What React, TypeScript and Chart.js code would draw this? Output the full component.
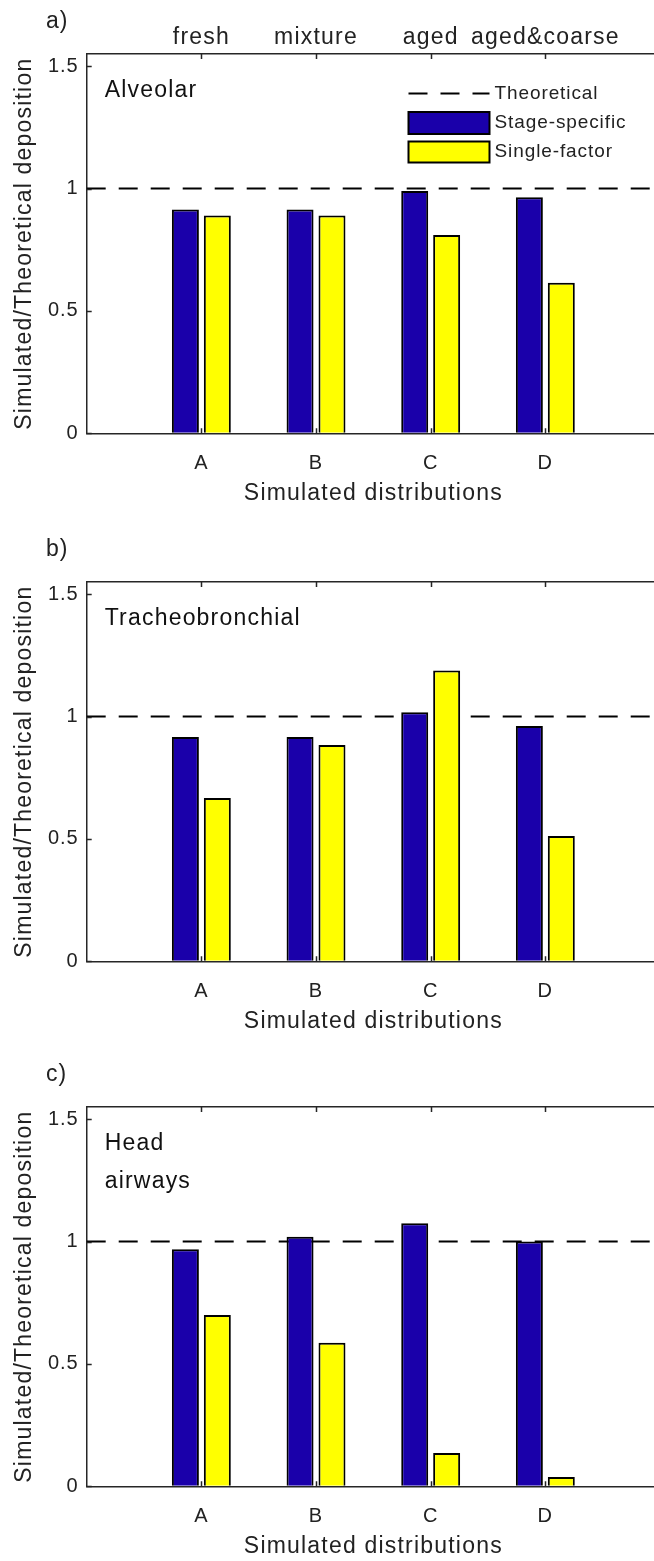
import React, { useEffect, useRef } from 'react';
import { Chart, registerables } from 'chart.js';

Chart.register(...registerables);

// Categories and labels
const distributions = ['A', 'B', 'C', 'D'];
const stages = ['fresh', 'mixture', 'aged', 'aged&coarse'];
const yTickValues = [0, 0.5, 1, 1.5];
const theoretical = 1;
const seriesLabels = ['Theoretical', 'Stage-specific', 'Single-factor'];

// Simulated / theoretical deposition ratios
const alveolarStage = [0.915, 0.915, 0.99, 0.965];
const alveolarSingle = [0.89, 0.89, 0.81, 0.615];
const tracheoStage = [0.917, 0.917, 1.018, 0.962];
const tracheoSingle = [0.667, 0.884, 1.188, 0.512];
const headStage = [0.969, 1.02, 1.075, 1.0];
const headSingle = [0.7, 0.587, 0.136, 0.038];

const panels = [
  { tag: 'a)', region: ['Alveolar'], stage: alveolarStage, single: alveolarSingle, stages: true, legend: true, offset: 0 },
  { tag: 'b)', region: ['Tracheobronchial'], stage: tracheoStage, single: tracheoSingle, stages: false, legend: false, offset: 528 },
  { tag: 'c)', region: ['Head', 'airways'], stage: headStage, single: headSingle, stages: false, legend: false, offset: 1053 },
];

const W = 670;
const H = 528;
const PLOT_LEFT = 86.7;
const PLOT_TOP = 54;
const PLOT_BOTTOM = 433.3;
const PLOT_RIGHT = 660;

const FONT = '"Liberation Sans", Arial, Helvetica, sans-serif';
const TEXT = '#222222';
const AXIS = '#262626';
const BLUE = '#1a00aa';
const YELLOW = '#ffff00';
const DASH = [19, 13];

function setSpacing(ctx: CanvasRenderingContext2D, px: number) {
  (ctx as any).letterSpacing = px + 'px';
}

function makeDecorations(panel: typeof panels[number]) {
  return {
    id: 'panelDecorations',
    beforeDraw(chart: Chart) {
      setSpacing(chart.ctx, 1);
    },
    afterDatasetsDraw(chart: Chart) {
      const ctx = chart.ctx;
      const { left, right, top, bottom } = chart.chartArea;
      const xs = chart.scales.x;
      const ys = chart.scales.y;
      ctx.save();
      ctx.strokeStyle = AXIS;
      ctx.lineWidth = 1.5;
      ctx.beginPath();
      yTickValues.forEach((v) => {
        const y = Math.round(ys.getPixelForValue(v)) + 0.5;
        ctx.moveTo(left, y);
        ctx.lineTo(left + 5, y);
        ctx.moveTo(right, y);
        ctx.lineTo(right - 5, y);
      });
      distributions.forEach((_, i) => {
        const x = Math.round(xs.getPixelForValue(i + 1)) + 0.5;
        ctx.moveTo(x, top);
        ctx.lineTo(x, top + 5);
        ctx.moveTo(x, bottom);
        ctx.lineTo(x, bottom - 5);
      });
      ctx.stroke();
      // right frame edge
      ctx.beginPath();
      ctx.moveTo(right, top);
      ctx.lineTo(right, bottom);
      ctx.stroke();
      ctx.restore();
    },
    afterDraw(chart: Chart) {
      const ctx = chart.ctx;
      const { left, right, top, bottom } = chart.chartArea;
      const xs = chart.scales.x;
      ctx.save();
      ctx.fillStyle = TEXT;
      ctx.textBaseline = 'middle';

      // panel tag
      setSpacing(ctx, 1);
      ctx.font = `23px ${FONT}`;
      ctx.textAlign = 'left';
      ctx.fillText(panel.tag, 46, 22);

      // stage names above the frame
      if (panel.stages) {
        ctx.textAlign = 'center';
        setSpacing(ctx, 1.2);
        stages.forEach((s, i) => {
          ctx.fillText(s, xs.getPixelForValue(i + 1), 38);
        });
      }

      // region name inside the frame
      ctx.fillStyle = '#111111';
      ctx.textAlign = 'left';
      setSpacing(ctx, 1.2);
      panel.region.forEach((line, k) => {
        ctx.fillText(line, left + 18, top + 37 + k * 38);
      });

      // axis titles
      ctx.fillStyle = TEXT;
      ctx.textAlign = 'center';
      ctx.fillText('Simulated distributions', (left + right) / 2, 494);
      ctx.save();
      ctx.translate(25, (top + bottom) / 2);
      ctx.rotate(-Math.PI / 2);
      ctx.fillText('Simulated/Theoretical deposition', 0, 0);
      ctx.restore();

      // legend
      if (panel.legend) {
        const lx = 408.5;
        const lw = 81;
        ctx.strokeStyle = '#000000';
        ctx.lineWidth = 2;
        ctx.setLineDash(DASH);
        ctx.beginPath();
        ctx.moveTo(lx, 93.5);
        ctx.lineTo(lx + lw, 93.5);
        ctx.stroke();
        ctx.setLineDash([]);
        ctx.lineWidth = 2;
        ctx.fillStyle = BLUE;
        ctx.fillRect(lx, 112, lw, 22);
        ctx.strokeRect(lx, 112, lw, 22);
        ctx.fillStyle = YELLOW;
        ctx.fillRect(lx, 141.5, lw, 21);
        ctx.strokeRect(lx, 141.5, lw, 21);
        ctx.fillStyle = TEXT;
        ctx.textAlign = 'left';
        ctx.font = `19px ${FONT}`;
        setSpacing(ctx, 0.9);
        ctx.fillText(seriesLabels[0], lx + 86, 94);
        ctx.fillText(seriesLabels[1], lx + 86, 123);
        ctx.fillText(seriesLabels[2], lx + 86, 152);
      }
      ctx.restore();
    },
  };
}

function Panel({ panel }: { panel: typeof panels[number] }) {
  const ref = useRef<HTMLCanvasElement | null>(null);

  useEffect(() => {
    if (!ref.current) return;
    const points = (vals: number[]) => vals.map((v, i) => ({ x: i + 1, y: v }));
    const categoryTicks = (s: any) => {
      s.ticks = distributions.map((_, i) => ({ value: i + 1 }));
    };
    const frameGrid = { display: true, drawOnChartArea: false, drawTicks: false, offset: false };
    const frameBorder = { display: true, color: AXIS, width: 1.5 };

    const chart = new Chart(ref.current, {
      type: 'bar',
      data: {
        datasets: [
          {
            type: 'line',
            label: seriesLabels[0],
            data: [
              { x: 0, y: theoretical },
              { x: 5, y: theoretical },
            ],
            borderColor: '#000000',
            borderWidth: 2,
            borderDash: DASH,
            pointRadius: 0,
            order: 10,
          } as any,
          {
            label: seriesLabels[1],
            data: points(panel.stage),
            backgroundColor: BLUE,
            borderColor: '#000000',
            borderWidth: 2,
            categoryPercentage: 0.557,
            barPercentage: 0.845,
            order: 1,
          },
          {
            label: seriesLabels[2],
            data: points(panel.single),
            backgroundColor: YELLOW,
            borderColor: '#000000',
            borderWidth: 2,
            categoryPercentage: 0.557,
            barPercentage: 0.845,
            order: 1,
          },
        ],
      },
      options: {
        animation: false,
        responsive: false,
        layout: { padding: { left: 0, top: 0, bottom: 0, right: W - PLOT_RIGHT } },
        plugins: { legend: { display: false }, tooltip: { enabled: false } },
        scales: {
          x: {
            type: 'linear',
            position: 'bottom',
            offset: false,
            min: 0,
            max: 5,
            afterBuildTicks: categoryTicks,
            afterFit: (s: any) => {
              s.height = H - PLOT_BOTTOM;
            },
            grid: frameGrid,
            border: frameBorder,
            ticks: {
              padding: 18,
              autoSkip: false,
              maxRotation: 0,
              color: TEXT,
              font: { family: FONT, size: 20 },
              callback: (v: any) => distributions[Number(v) - 1] ?? '',
            },
          },
          x2: {
            type: 'linear',
            position: 'top',
            offset: false,
            min: 0,
            max: 5,
            afterBuildTicks: categoryTicks,
            afterFit: (s: any) => {
              s.height = PLOT_TOP;
            },
            grid: frameGrid,
            border: frameBorder,
            ticks: { display: false },
          },
          y: {
            type: 'linear',
            min: 0,
            max: 1.55,
            afterBuildTicks: (s: any) => {
              s.ticks = yTickValues.map((v) => ({ value: v }));
            },
            afterFit: (s: any) => {
              s.width = PLOT_LEFT;
            },
            grid: frameGrid,
            border: frameBorder,
            ticks: {
              padding: 8,
              color: TEXT,
              font: { family: FONT, size: 20 },
              callback: (v: any) => String(v),
            },
          },
        },
      } as any,
      plugins: [makeDecorations(panel)],
    });
    return () => chart.destroy();
  }, [panel]);

  return (
    <canvas
      ref={ref}
      width={W}
      height={H}
      style={{ position: 'absolute', left: 0, top: panel.offset, width: W, height: H }}
    />
  );
}

export default function App() {
  return (
    <div
      style={{
        position: 'absolute',
        left: 0,
        top: 0,
        width: 654,
        height: 1561,
        overflow: 'hidden',
        background: '#ffffff',
      }}
    >
      {panels.map((p) => (
        <Panel key={p.tag} panel={p} />
      ))}
    </div>
  );
}
